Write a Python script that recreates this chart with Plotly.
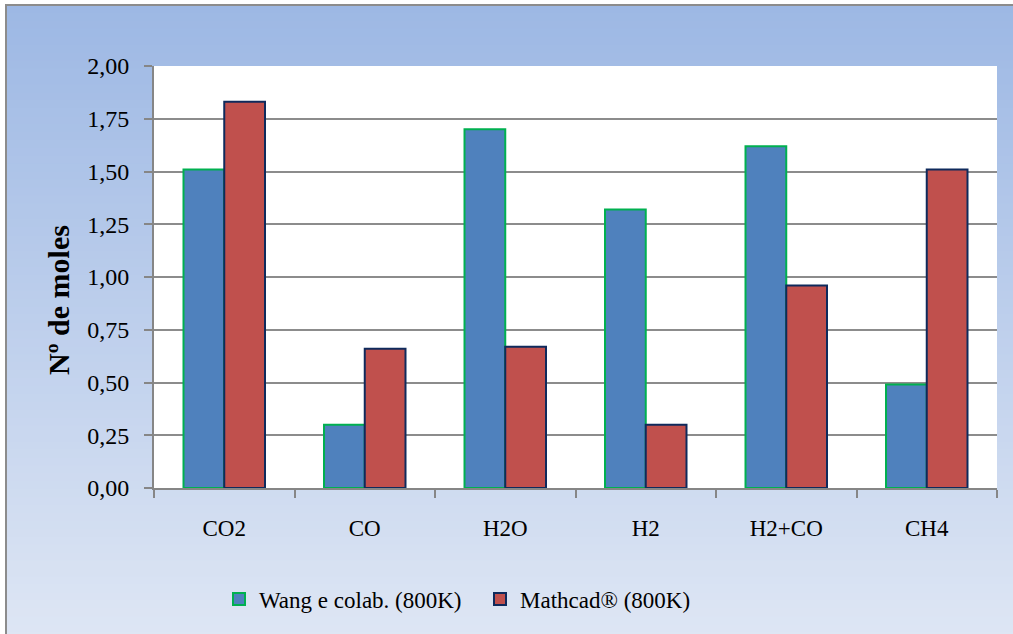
import plotly.graph_objects as go

categories = ["CO2", "CO", "H2O", "H2", "H2+CO", "CH4"]
wang = [1.51, 0.30, 1.70, 1.32, 1.62, 0.49]
mathcad = [1.83, 0.66, 0.67, 0.30, 0.96, 1.51]
series_names = ["Wang e colab. (800K)", "Mathcad® (800K)"]
y_ticks = [0, 0.25, 0.5, 0.75, 1.0, 1.25, 1.5, 1.75, 2.0]

W, H = 1013, 634
L, R, T, B = 154, 997, 66, 488
pw, ph = R - L, B - T

def px(p):
    return (p - L) / pw

def py(p):
    return (B - p) / ph

font = "Liberation Serif"

fig = go.Figure()
fig.add_trace(go.Bar(x=categories, y=wang, name=series_names[0],
                     marker=dict(color="#4f81bd", line=dict(color="#00b050", width=2))))
fig.add_trace(go.Bar(x=categories, y=mathcad, name=series_names[1],
                     marker=dict(color="#c0504d", line=dict(color="#0f2a5c", width=2))))

# gradient background bands
shapes = []
top_c = (157, 184, 228)
bot_c = (222, 230, 244)
y0p, y1p = 5, 640
n = 80
for i in range(n):
    a = y0p + (y1p - y0p) * i / n
    b = y0p + (y1p - y0p) * (i + 1) / n + 1
    t = i / (n - 1)
    c = tuple(int(round(top_c[k] + (bot_c[k] - top_c[k]) * t)) for k in range(3))
    shapes.append(dict(type="rect", xref="paper", yref="paper", layer="below",
                       x0=px(6), x1=px(1020), y0=py(a), y1=py(b),
                       fillcolor="rgb(%d,%d,%d)" % c, line=dict(width=0)))
# plot area white
shapes.append(dict(type="rect", xref="paper", yref="paper", layer="below",
                   x0=0, x1=1, y0=0, y1=1, fillcolor="white", line=dict(width=0)))
# outer border
shapes.append(dict(type="rect", xref="paper", yref="paper", layer="above",
                   x0=px(6), x1=px(1030), y0=py(5), y1=py(650),
                   fillcolor="rgba(0,0,0,0)", line=dict(color="#8c8c8c", width=2)))

fig.update_layout(
    width=W, height=H,
    margin=dict(l=L, r=W - R, t=T, b=H - B, pad=0),
    paper_bgcolor="rgba(0,0,0,0)",
    plot_bgcolor="rgba(0,0,0,0)",
    separators=",.",
    barmode="group",
    bargap=0.42,
    bargroupgap=0,
    shapes=shapes,
    showlegend=True,
    legend=dict(orientation="h", x=px(219), xanchor="left", y=py(599), yanchor="middle",
                font=dict(family=font, size=23, color="black"),
                bgcolor="rgba(0,0,0,0)", itemwidth=30, tracegroupgap=0,
                entrywidth=216),
    annotations=[dict(text="<b>Nº de moles</b>", textangle=-90, xref="paper", yref="paper",
                      x=px(58), y=py(300), xanchor="center", yanchor="middle", showarrow=False,
                      font=dict(family=font, size=30, color="black"))],
    font=dict(family=font, color="black"),
)

fig.update_xaxes(type="category", showline=True, linecolor="#868686", linewidth=2,
                 ticks="outside", tickson="boundaries", ticklen=8, tickwidth=2, tickcolor="#868686",
                 tickfont=dict(family=font, size=23, color="black"), ticklabelstandoff=18,
                 showgrid=False, zeroline=False)
fig.update_yaxes(range=[0, 2], tickvals=y_ticks, tickformat=".2f", showline=True,
                 linecolor="#868686", linewidth=2, ticks="outside", ticklen=8, tickwidth=2,
                 tickcolor="#868686", showgrid=True, gridcolor="#8c8c8c", gridwidth=2,
                 tickfont=dict(family=font, size=24, color="black"), ticklabelstandoff=10,
                 zeroline=False)

fig.write_html("out.html")
